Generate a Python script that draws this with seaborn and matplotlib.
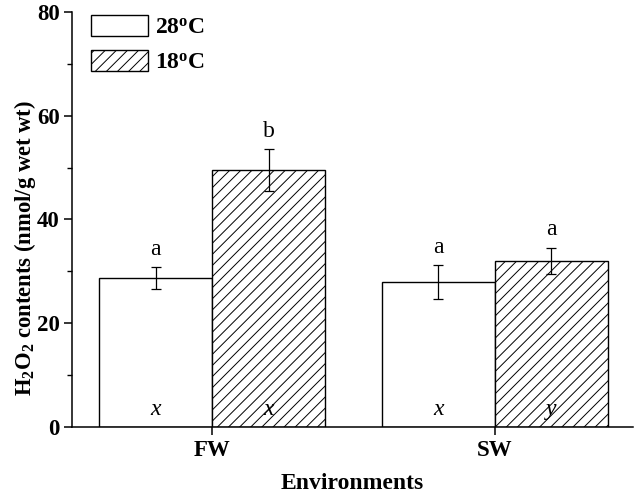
import matplotlib
matplotlib.use("Agg")
import matplotlib.pyplot as plt
import matplotlib.patches as mpatches
from matplotlib.ticker import MultipleLocator
import seaborn as sns
import pandas as pd

# ---- data ----
environments = ["FW", "SW"]
temperatures = ["28$^{o}$C", "18$^{o}$C"]
means_28 = [28.7, 27.9]
means_18 = [49.5, 32.0]
errs_28 = [2.1, 3.3]
errs_18 = [4.1, 2.6]
letters_28 = ["a", "a"]
letters_18 = ["b", "a"]
within_28 = ["x", "x"]
within_18 = ["x", "y"]

df = pd.DataFrame({
    "env": environments * 2,
    "temp": [temperatures[0]] * 2 + [temperatures[1]] * 2,
    "val": means_28 + means_18,
})

sns.set_theme(style="ticks")
plt.rcParams["font.family"] = ["Liberation Serif", "DejaVu Serif"]
plt.rcParams["mathtext.fontset"] = "custom"
plt.rcParams["mathtext.rm"] = "Liberation Serif"
plt.rcParams["mathtext.it"] = "Liberation Serif:italic"
plt.rcParams["mathtext.bf"] = "Liberation Serif:bold"
plt.rcParams["mathtext.default"] = "bf"
plt.rcParams["hatch.linewidth"] = 0.7
plt.rcParams["text.color"] = "black"
plt.rcParams["axes.labelcolor"] = "black"
plt.rcParams["legend.labelcolor"] = "black"

DPI = 100
fig = plt.figure(figsize=(638 / DPI, 497 / DPI), dpi=DPI)
ax = fig.add_axes([72 / 638, 1 - 427 / 497, (633 - 72) / 638, (427 - 12) / 497])

sns.barplot(data=df, x="env", y="val", hue="temp", hue_order=temperatures,
            order=environments, palette=["white", "white"], edgecolor="black",
            linewidth=1.0, errorbar=None, width=0.8, ax=ax, legend=False)

errs = [errs_28, errs_18]
tops = [letters_28, letters_18]
inside = [within_28, within_18]
bar_containers = list(ax.containers)
for k, cont in enumerate(bar_containers):
    for i, bar in enumerate(cont.patches):
        if k == 1:
            bar.set_hatch("///")
        cx = bar.get_x() + bar.get_width() / 2
        h = bar.get_height()
        ax.errorbar(cx, h, yerr=errs[k][i], fmt="none", ecolor="black",
                    elinewidth=0.9, capsize=3.5, capthick=0.9, zorder=5)
        ax.text(cx, h + errs[k][i] + 1.4, tops[k][i], ha="center", va="bottom",
                fontsize=17, color="black")
        ax.text(cx, 3.3, inside[k][i], ha="center", va="center",
                fontsize=17, style="italic", color="black")

ax.set_xlim(-0.496, 1.489)
ax.set_ylim(0, 80)
ax.yaxis.set_major_locator(MultipleLocator(20))
ax.yaxis.set_minor_locator(MultipleLocator(10))
sns.despine(ax=ax)
for s in ["left", "bottom"]:
    ax.spines[s].set_linewidth(1.1)
    ax.spines[s].set_color("black")
ax.tick_params(axis="both", which="major", direction="out", length=6, width=1.1,
               colors="black", labelsize=16.5, pad=3)
ax.tick_params(axis="y", which="minor", direction="out", length=3.5, width=1.0,
               colors="black")
for lab in ax.get_xticklabels() + ax.get_yticklabels():
    lab.set_fontweight("bold")

ax.set_xlabel("Environments", fontsize=17, fontweight="bold", labelpad=9,
              color="black")
ax.set_ylabel("H$_2$O$_2$ contents (nmol/g wet wt)", fontsize=16.3,
              fontweight="bold", color="black")
ax.yaxis.set_label_coords(-0.06, 0.431)

handles = [
    mpatches.Patch(facecolor="white", edgecolor="black", linewidth=1.0, label=temperatures[0]),
    mpatches.Patch(facecolor="white", edgecolor="black", linewidth=1.0, hatch="///", label=temperatures[1]),
]
leg = ax.legend(handles=handles, loc="upper left", bbox_to_anchor=(19 / 561, 0.993),
                frameon=False, prop={"size": 17, "weight": "bold"},
                handlelength=2.4, handleheight=1.0, labelspacing=0.5,
                handletextpad=0.3, borderaxespad=0, borderpad=0)
for t in leg.get_texts():
    t.set_color("black")

fig.savefig("out.png", dpi=DPI, facecolor="white")
